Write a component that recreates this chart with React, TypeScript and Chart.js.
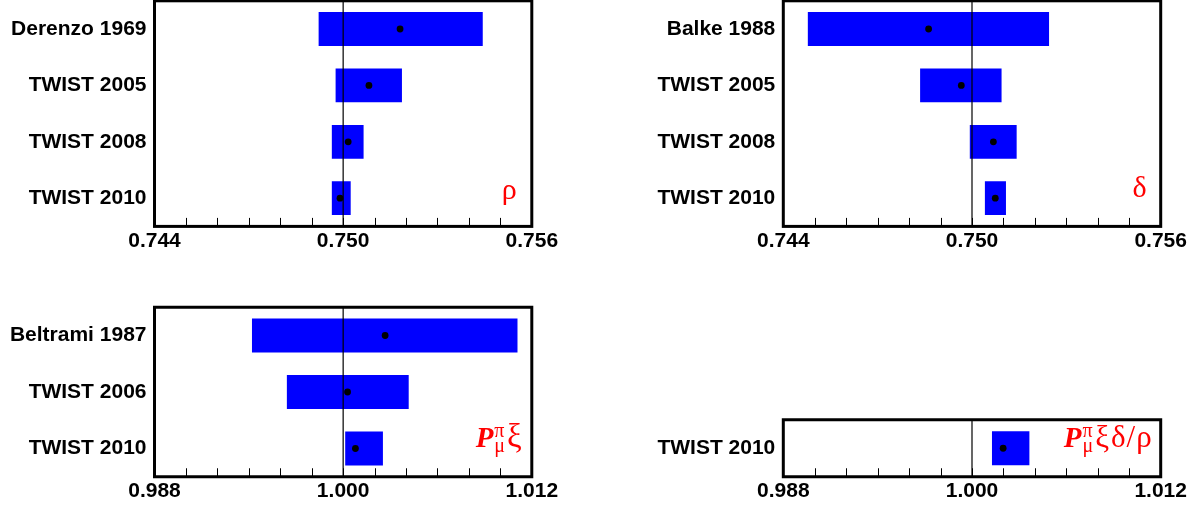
import React, { useEffect, useRef } from "react";
import { Chart, registerables } from "chart.js";
Chart.register(...registerables);

// ---- data ----
const rhoCategories = ["Derenzo 1969", "TWIST 2005", "TWIST 2008", "TWIST 2010"];
const rhoValues = [0.75181, 0.75082, 0.75016, 0.7499];
const rhoLow = [0.74922, 0.74976, 0.74964, 0.74964];
const rhoHigh = [0.75444, 0.75187, 0.75065, 0.75024];

const deltaCategories = ["Balke 1988", "TWIST 2005", "TWIST 2008", "TWIST 2010"];
const deltaValues = [0.74862, 0.74966, 0.75068, 0.75074];
const deltaLow = [0.74478, 0.74835, 0.74993, 0.75041];
const deltaHigh = [0.75245, 0.75094, 0.75142, 0.75108];

const pxiCategories = ["Beltrami 1987", "TWIST 2006", "TWIST 2010"];
const pxiValues = [1.00267, 1.00028, 1.00078];
const pxiLow = [0.9942, 0.99642, 1.00013];
const pxiHigh = [1.01109, 1.00417, 1.00253];

const pxdrCategories = ["TWIST 2010"];
const pxdrValues = [1.00198];
const pxdrLow = [1.00127];
const pxdrHigh = [1.00365];

const topTickLabels = ["0.744", "0.750", "0.756"];
const bottomTickLabels = ["0.988", "1.000", "1.012"];

const FONT_SANS = '"Liberation Sans", Arial, Helvetica, sans-serif';
const FONT_SERIF = '"Liberation Serif", "Times New Roman", "DejaVu Serif", serif';

type Seg = { text?: string; sup?: string; sub?: string; font: string; supDy?: number; subDy?: number; pad?: number };

const labelRho: Seg[] = [{ text: "ρ", font: `30px ${FONT_SERIF}` }];
const labelDelta: Seg[] = [{ text: "δ", font: `30px ${FONT_SERIF}` }];
const labelPxi: Seg[] = [
  { text: "P", font: `bold italic 29px ${FONT_SERIF}`, pad: 1 },
  { sup: "π", sub: "μ", font: `20px ${FONT_SERIF}`, supDy: 10, subDy: 5, pad: 2 },
  { text: "ξ", font: `33px ${FONT_SERIF}` },
];
const labelPxdr: Seg[] = [
  { text: "P", font: `bold italic 29px ${FONT_SERIF}`, pad: 1 },
  { sup: "π", sub: "μ", font: `20px ${FONT_SERIF}`, supDy: 10, subDy: 5, pad: 2 },
  { text: "ξ", font: `31px ${FONT_SERIF}`, pad: 2 },
  { text: "δ", font: `31px ${FONT_SERIF}`, pad: 1 },
  { text: "/", font: `31px ${FONT_SERIF}`, pad: 1 },
  { text: "ρ", font: `31px ${FONT_SERIF}` },
];

const decoPlugin = {
  id: "deco",
  afterDatasetDraw(chart: any, args: any, opts: any) {
    if (args.index !== 0) return;
    const { ctx, chartArea: a, scales } = chart;
    const x = scales.x.getPixelForValue(opts.ref);
    ctx.save();
    ctx.strokeStyle = "#000";
    ctx.lineWidth = 1.2;
    ctx.beginPath();
    ctx.moveTo(x, a.top);
    ctx.lineTo(x, a.bottom);
    ctx.stroke();
    ctx.restore();
  },
  afterDraw(chart: any, _args: any, opts: any) {
    const { ctx, chartArea: a, scales } = chart;
    ctx.save();
    ctx.strokeStyle = "#000";
    ctx.lineWidth = 1;
    scales.x.ticks.forEach((t: any) => {
      const px = Math.round(scales.x.getPixelForValue(t.value)) + 0.5;
      ctx.beginPath();
      ctx.moveTo(px, a.bottom);
      ctx.lineTo(px, a.bottom - 8.5);
      ctx.stroke();
    });
    ctx.lineWidth = 3;
    ctx.strokeRect(a.left, a.top, a.right - a.left, a.bottom - a.top);

    const segs: Seg[] = opts.label;
    const widths = segs.map((s) => {
      ctx.font = s.font;
      const w = s.sup
        ? Math.max(ctx.measureText(s.sup).width, ctx.measureText(s.sub || "").width)
        : ctx.measureText(s.text || "").width;
      return w + (s.pad || 0);
    });
    const total = widths.reduce((p, c) => p + c, 0);
    let x = a.right - opts.gap - total;
    const y = a.bottom - opts.base;
    ctx.fillStyle = "#ff0000";
    ctx.textAlign = "left";
    ctx.textBaseline = "alphabetic";
    segs.forEach((s, i) => {
      ctx.font = s.font;
      if (s.sup) {
        ctx.fillText(s.sup, x, y - (s.supDy || 0));
        ctx.fillText(s.sub || "", x, y + (s.subDy || 0));
      } else {
        ctx.fillText(s.text || "", x, y);
      }
      x += widths[i];
    });
    ctx.restore();
  },
};

type PanelCfg = {
  x: number; y: number; w: number; h: number;
  area: { l: number; r: number; t: number; b: number };
  categories: string[]; values: number[]; low: number[]; high: number[];
  min: number; max: number; step: number; tickLabels: string[]; ref: number;
  label: Seg[]; gap: number; base: number;
};

const panels: PanelCfg[] = [
  {
    x: 0, y: 0, w: 599, h: 262, area: { l: 154.5, r: 531.8, t: 0.8, b: 226.4 },
    categories: rhoCategories, values: rhoValues, low: rhoLow, high: rhoHigh,
    min: 0.744, max: 0.756, step: 0.001, tickLabels: topTickLabels, ref: 0.75,
    label: labelRho, gap: 15, base: 27.5,
  },
  {
    x: 599, y: 0, w: 599, h: 262, area: { l: 184.3, r: 561.7, t: 0.8, b: 226.4 },
    categories: deltaCategories, values: deltaValues, low: deltaLow, high: deltaHigh,
    min: 0.744, max: 0.756, step: 0.001, tickLabels: topTickLabels, ref: 0.75,
    label: labelDelta, gap: 14, base: 29.5,
  },
  {
    x: 0, y: 262, w: 599, h: 243, area: { l: 154.5, r: 531.8, t: 45.25, b: 214.75 },
    categories: pxiCategories, values: pxiValues, low: pxiLow, high: pxiHigh,
    min: 0.988, max: 1.012, step: 0.002, tickLabels: bottomTickLabels, ref: 1.0,
    label: labelPxi, gap: 10, base: 29.5,
  },
  {
    x: 599, y: 262, w: 599, h: 243, area: { l: 184.3, r: 561.7, t: 157.75, b: 214.75 },
    categories: pxdrCategories, values: pxdrValues, low: pxdrLow, high: pxdrHigh,
    min: 0.988, max: 1.012, step: 0.002, tickLabels: bottomTickLabels, ref: 1.0,
    label: labelPxdr, gap: 9, base: 29.5,
  },
];

function Panel({ cfg }: { cfg: PanelCfg }) {
  const ref = useRef<HTMLCanvasElement>(null);
  useEffect(() => {
    if (!ref.current) return;
    const { area, w, h } = cfg;
    const font = { family: FONT_SANS, size: 21, weight: "bold" as const };
    const chart = new Chart(ref.current, {
      type: "bar",
      data: {
        labels: cfg.categories,
        datasets: [
          {
            type: "bar",
            data: cfg.categories.map((_, i) => [cfg.low[i], cfg.high[i]]) as any,
            backgroundColor: "#0000ff",
            borderWidth: 0,
            categoryPercentage: 1,
            barPercentage: 0.6,
            order: 2,
          },
          {
            type: "line",
            data: cfg.categories.map((c, i) => ({ x: cfg.values[i], y: c })) as any,
            showLine: false,
            pointRadius: 3.4,
            pointBackgroundColor: "#000",
            pointBorderColor: "#000",
            pointBorderWidth: 0,
            borderColor: "#000",
            order: 1,
          } as any,
        ],
      },
      options: {
        indexAxis: "y",
        responsive: false,
        animation: false,
        devicePixelRatio: 1,
        events: [],
        layout: { autoPadding: false, padding: { left: 0, top: area.t, right: w - area.r, bottom: 0 } },
        plugins: {
          legend: { display: false },
          tooltip: { enabled: false },
          deco: { ref: cfg.ref, label: cfg.label, gap: cfg.gap, base: cfg.base },
        } as any,
        scales: {
          x: {
            type: "linear",
            min: cfg.min,
            max: cfg.max,
            ticks: {
              stepSize: cfg.step,
              autoSkip: false,
              maxRotation: 0,
              minRotation: 0,
              padding: 2,
              color: "#000",
              font,
              callback: (v: any) => {
                const s = Number(v).toFixed(3);
                return cfg.tickLabels.includes(s) ? s : "";
              },
            },
            grid: { display: false, drawTicks: false },
            border: { display: false },
            afterFit: (s: any) => {
              s.height = h - area.b;
              s.paddingLeft = 0;
              s.paddingRight = 0;
            },
          },
          y: {
            type: "category",
            offset: true,
            ticks: { padding: 8, color: "#000", font, autoSkip: false },
            grid: { display: false, drawTicks: false, offset: true },
            border: { display: false },
            afterFit: (s: any) => {
              s.width = area.l;
              s.paddingTop = 0;
              s.paddingBottom = 0;
            },
          },
        },
      } as any,
      plugins: [decoPlugin],
    });
    return () => chart.destroy();
  }, []);
  return (
    <canvas
      ref={ref}
      width={cfg.w}
      height={cfg.h}
      style={{ position: "absolute", left: cfg.x, top: cfg.y, width: cfg.w, height: cfg.h, display: "block" }}
    />
  );
}

export default function App() {
  return (
    <div style={{ position: "absolute", left: 0, top: 0, width: 1198, height: 505, background: "#fff", overflow: "hidden" }}>
      {panels.map((p, i) => (
        <Panel key={i} cfg={p} />
      ))}
    </div>
  );
}
